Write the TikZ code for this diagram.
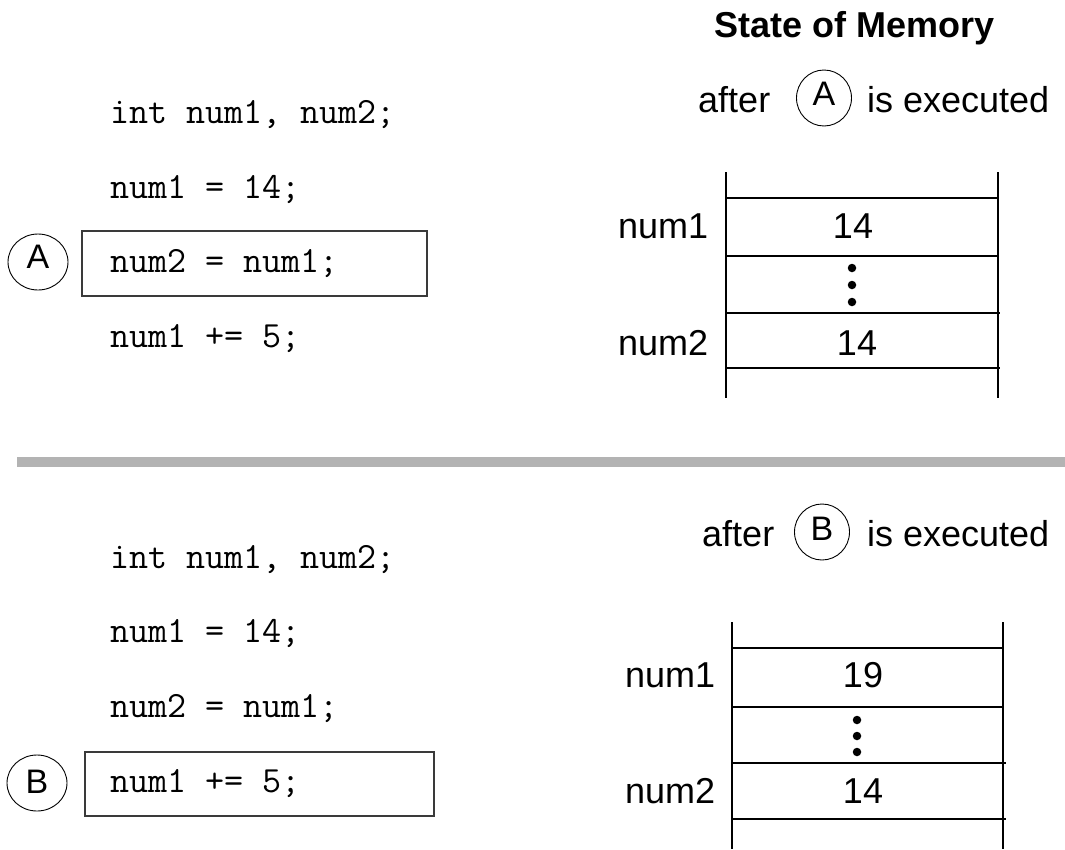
\documentclass[tikz,border=0pt]{standalone}
\usepackage{fontspec}
\setmainfont{Liberation Sans}
\usetikzlibrary{shapes.geometric}
\definecolor{barGray}{HTML}{B3B3B3}
\definecolor{boxLine}{HTML}{3A3A3A}
\tikzset{
  lbl/.style={inner sep=0pt, font=\fontsize{36}{40}\selectfont},
  code/.style={inner sep=0pt, anchor=base west, font=\ttfamily\fontsize{37}{40}\selectfont},
  tag/.style={inner sep=0pt, anchor=base, font=\fontsize{34}{38}\selectfont},
  ring/.style={draw, ellipse, line width=0.9pt, inner sep=0pt},
  stmtbox/.style={draw=boxLine, line width=1.3pt},
  memline/.style={line width=2.2pt, line cap=butt},
  memdot/.style={circle, fill=black, inner sep=0pt, minimum size=8.5pt}
}
\begin{document}
\begin{tikzpicture}[x=1pt, y=-1pt]
\useasboundingbox (0,0) rectangle (1065,849);

% ---------- heading ----------
\node[lbl, anchor=base, font=\bfseries\fontsize{36}{40}\selectfont] (title) at (855,37) {State of Memory};

% ---------- upper half: program, statement A marked ----------
\node[code] (a1) at (110,123) {int num1, num2;};
\node[code] (a2) at (110,198) {num1 = 14;};
\node[code] (a3) at (110,272) {num2 = num1;};
\node[code] (a4) at (110,347) {num1 += 5;};
\draw[stmtbox] (82,231) rectangle (427,296);
\node[ring, minimum width=60pt, minimum height=56pt] (ringA) at (38,262) {};
\node[tag] (tagA) at (38,268) {A};

% caption for state A
\node[lbl, anchor=base west] (afterA) at (698,112) {after};
\node[ring, minimum width=55pt, minimum height=56pt] (capRingA) at (824,98) {};
\node[tag] (capTagA) at (824,105) {A};
\node[lbl, anchor=base west] (execA) at (867,112) {is executed};

% memory cells for state A
\draw[memline] (726,172) -- (726,398);
\draw[memline] (998,172) -- (998,398);
\draw[memline] (726,198) -- (998,198);
\draw[memline] (726,256) -- (998,256);
\draw[memline] (726,313) -- (1000,313);
\draw[memline] (726,368) -- (1000,368);
\node[lbl, anchor=base west] (memA1) at (618,238) {num1};
\node[lbl, anchor=base west] (memA2) at (618,355) {num2};
\node[lbl, anchor=base] (valA1) at (853,238) {14};
\node[lbl, anchor=base] (valA2) at (857,355) {14};
\node[memdot] (dA1) at (852,268) {};
\node[memdot] (dA2) at (852,285) {};
\node[memdot] (dA3) at (852,302) {};

% ---------- separator ----------
\fill[barGray] (17,457) rectangle (1065,467);

% ---------- lower half: program, statement B marked ----------
\node[code] (b1) at (110,568) {int num1, num2;};
\node[code] (b2) at (110,642) {num1 = 14;};
\node[code] (b3) at (110,717) {num2 = num1;};
\node[code] (b4) at (110,792) {num1 += 5;};
\draw[stmtbox] (85,752) rectangle (434,816);
\node[ring, minimum width=60pt, minimum height=56pt] (ringB) at (37,783) {};
\node[tag] (tagB) at (37,793) {B};

% caption for state B
\node[lbl, anchor=base west] (afterB) at (702,546) {after};
\node[ring, minimum width=55pt, minimum height=56pt] (capRingB) at (822,532) {};
\node[tag] (capTagB) at (822,540) {B};
\node[lbl, anchor=base west] (execB) at (867,546) {is executed};

% memory cells for state B
\draw[memline] (732,622) -- (732,849);
\draw[memline] (1003,622) -- (1003,849);
\draw[memline] (732,648) -- (1003,648);
\draw[memline] (732,707) -- (1003,707);
\draw[memline] (732,763) -- (1006,763);
\draw[memline] (732,819) -- (1006,819);
\node[lbl, anchor=base west] (memB1) at (625,687) {num1};
\node[lbl, anchor=base west] (memB2) at (625,803) {num2};
\node[lbl, anchor=base] (valB1) at (863,687) {19};
\node[lbl, anchor=base] (valB2) at (863,803) {14};
\node[memdot] (dB1) at (857,720) {};
\node[memdot] (dB2) at (857,736) {};
\node[memdot] (dB3) at (857,752) {};
\end{tikzpicture}
\end{document}
